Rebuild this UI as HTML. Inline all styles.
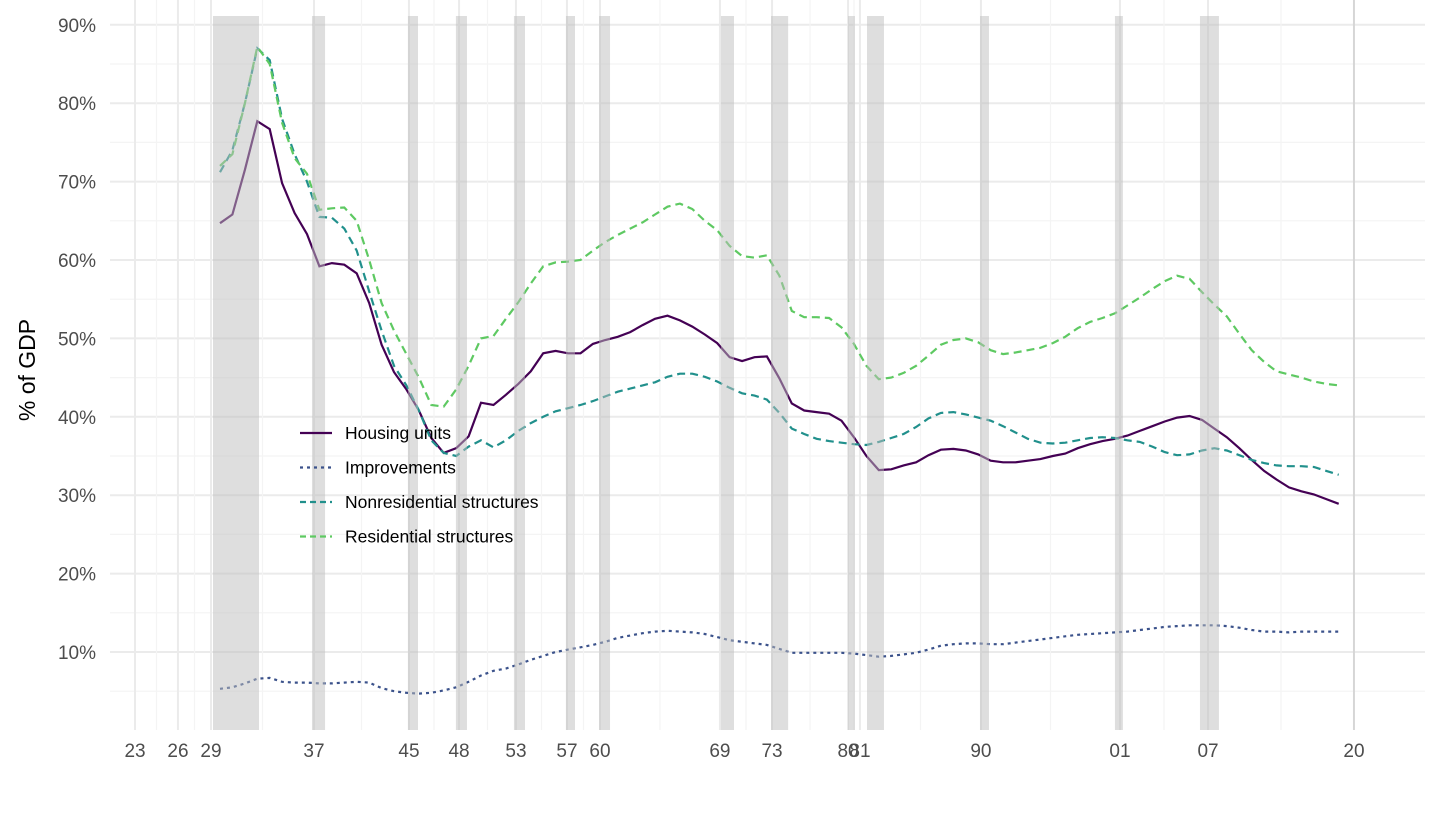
<!DOCTYPE html>
<html><head><meta charset="utf-8"><style>
html,body{margin:0;padding:0;background:#fff;}
svg text{font-family:"Liberation Sans",Arial,sans-serif;}
</style></head><body>
<svg id="chart" width="1440" height="810" xmlns="http://www.w3.org/2000/svg">
<g id="grid"></g>
<g id="lines"></g>
<g id="shade"></g>
<g id="axes"></g>
<text x="0" y="0" transform="translate(35,370) rotate(-90)" text-anchor="middle" font-size="23" fill="#000">% of GDP</text>
<g id="legend"></g>
</svg>
<script>
const years = [];
for (let y = 1929; y <= 2019; y++) years.push(y);
const housingUnits = [64.7,65.8,71.5,77.7,76.7,69.8,66,63.3,59.2,59.6,59.4,58.3,54.5,49.2,45.7,43.5,40.8,37.3,35.4,36,37.5,41.8,41.5,42.8,44.2,45.8,48.1,48.4,48.1,48.1,49.3,49.8,50.2,50.8,51.7,52.5,52.9,52.3,51.5,50.5,49.4,47.6,47.1,47.6,47.7,44.9,41.7,40.8,40.6,40.4,39.5,37.4,35,33.2,33.3,33.8,34.2,35.1,35.8,35.9,35.7,35.2,34.4,34.2,34.2,34.4,34.6,35,35.3,36,36.5,36.9,37.2,37.6,38.2,38.8,39.4,39.9,40.1,39.6,38.5,37.4,36,34.5,33.1,32,31,30.5,30.1,29.5,28.9];
const improvements = [5.3,5.5,6,6.6,6.7,6.2,6.1,6.1,6,6,6.1,6.2,6.1,5.4,5,4.8,4.7,4.8,5.1,5.5,6.2,7,7.6,7.9,8.4,9,9.5,10,10.3,10.6,10.9,11.3,11.8,12.1,12.4,12.6,12.7,12.6,12.5,12.3,11.9,11.5,11.3,11.1,10.9,10.4,9.9,9.9,9.9,9.9,9.9,9.8,9.6,9.4,9.5,9.7,9.9,10.3,10.8,11,11.1,11.1,11,11,11.2,11.4,11.6,11.8,12,12.2,12.3,12.4,12.5,12.6,12.8,13,13.2,13.3,13.4,13.4,13.4,13.3,13.1,12.8,12.6,12.6,12.5,12.6,12.6,12.6,12.6];
const nonresidential = [71.2,74,80,87,85.5,78,73.5,70,65.5,65.4,64,61.2,56,51,46.5,44,40.8,37,35.4,35,36.2,37,36.1,37,38.2,39.2,40,40.7,41.1,41.5,42,42.6,43.2,43.6,44,44.4,45.1,45.5,45.5,45.1,44.5,43.7,43,42.7,42.2,40.5,38.5,37.8,37.2,36.9,36.7,36.5,36.4,36.8,37.3,37.8,38.7,39.8,40.5,40.6,40.3,39.9,39.5,38.8,38,37.2,36.7,36.6,36.7,37,37.3,37.4,37.3,37,36.8,36.2,35.5,35.1,35.2,35.7,36,35.7,35.1,34.5,34.1,33.8,33.7,33.7,33.6,33.1,32.6];
const residential = [72,73.5,80,87.2,85,77.5,73,71,66.4,66.6,66.7,65,60,54.5,51,48,45,41.5,41.3,43.5,46.5,50,50.3,52.5,54.6,57,59.2,59.7,59.8,60,61.2,62.3,63.2,64,64.8,65.8,66.8,67.2,66.5,65,63.8,61.8,60.5,60.3,60.6,58,53.5,52.7,52.7,52.6,51.4,49.3,46.5,44.8,45,45.6,46.5,47.8,49.2,49.8,50,49.5,48.5,48,48.2,48.5,48.8,49.4,50.2,51.3,52.1,52.6,53.2,54.2,55.2,56.3,57.3,58,57.6,55.9,54.3,52.8,50.6,48.5,47,45.8,45.4,45,44.5,44.2,44];
const recessionStart = [1929.16,1937.04,1944.68,1948.5,1953.12,1957.26,1959.9,1969.6,1973.59,1979.72,1981.23,1990.23,2000.97,2007.74];
const recessionEnd =   [1932.82,1938.08,1945.48,1949.38,1954.0,1957.98,1960.77,1970.64,1974.95,1980.27,1982.58,1990.94,2001.6,2009.25];
const xTickYears = [1922.95,1926.37,1929,1937.2,1944.76,1948.75,1953.28,1957.34,1959.97,1969.52,1973.67,1979.72,1980.67,1990.3,2001.37,2008.38,2020];
const xTickLabels = ["23","26","29","37","45","48","53","57","60","69","73","80","81","90","01","07","20"];
const yTicks = [10,20,30,40,50,60,70,80,90];

const NS="http://www.w3.org/2000/svg";
const X = y => 211 + (y - 1929) * 12.56;
const Xd = y => 220 + (y - 1929) * 12.43;
const Y = v => 652 - (v - 10) * 7.84;
const L=110, R=1425, T=0, B=730;
function mk(tag, attrs, parent){const e=document.createElementNS(NS,tag);for(const k in attrs)e.setAttribute(k,attrs[k]);parent.appendChild(e);return e;}
const grid=document.getElementById('grid'), axes=document.getElementById('axes');
for (let v=5; v<=95; v+=5){
  const yy=Y(v); if(yy<T||yy>B) continue;
  const major = v%10===0;
  const ln=mk('line',{x1:L,x2:R,y1:yy,y2:yy,stroke:major?'#ebebeb':'#f4f4f4','stroke-width':major?2:1.2},grid);
  
  
}
yTicks.forEach(v=>{
  const t=mk('text',{x:96,y:Y(v)+7,'text-anchor':'end','font-size':19,fill:'#4d4d4d'},axes);
  t.textContent=v+'%';
  
  
});
xTickYears.forEach((yr,i)=>{
  const xx=X(yr);
  const ln=mk('line',{x1:xx,x2:xx,y1:T,y2:B,stroke:i===xTickYears.length-1?'#d6d6d6':'#ebebeb','stroke-width':2},grid);
  
  
  const t=mk('text',{x:xx,y:757,'text-anchor':'middle','font-size':19,fill:'#4d4d4d'},axes);
  t.textContent=xTickLabels[i];
  
  
});
for (let i=0;i<xTickYears.length-1;i++){
  const xx=(X(xTickYears[i])+X(xTickYears[i+1]))/2;
  const ln=mk('line',{x1:xx,x2:xx,y1:T,y2:B,stroke:'#f4f4f4','stroke-width':1.2},grid);
  
  
}
const series=[
 {name:'housing-units',label:'Housing units',data:housingUnits,color:'#440154',dash:''},
 {name:'improvements',label:'Improvements',data:improvements,color:'#3b528b',dash:'3,4'},
 {name:'nonresidential-structures',label:'Nonresidential structures',data:nonresidential,color:'#21908c',dash:'8,5'},
 {name:'residential-structures',label:'Residential structures',data:residential,color:'#5ec962',dash:'8,5'}
];
const lines=document.getElementById('lines');
series.forEach(s=>{
  const d=s.data.map((v,i)=>(i?'L':'M')+Xd(years[i]).toFixed(1)+','+Y(v).toFixed(1)).join(' ');
  const p=mk('path',{d:d,fill:'none',stroke:s.color,'stroke-width':2.2,'stroke-dasharray':s.dash},lines);
  
  
});
const shade=document.getElementById('shade');
recessionStart.forEach((st,i)=>{
  const r=mk('rect',{x:X(st),y:16,width:X(recessionEnd[i])-X(st),height:B-16,fill:'rgba(190,190,190,0.5)'},shade);
  
  
});
const lg=document.getElementById('legend');
series.forEach((s,i)=>{
  const yy=433+i*34.5;
  const ln=mk('line',{x1:300,x2:332,y1:yy,y2:yy,stroke:s.color,'stroke-width':2.2,'stroke-dasharray':s.dash?(s.dash==='3,4'?'3,4':'6,4'):''},lg);
  
  
  const t=mk('text',{x:345,y:yy+6,'font-size':17.5,fill:'#000'},lg);
  t.textContent=s.label;
  
  
});
</script>
</body></html>
